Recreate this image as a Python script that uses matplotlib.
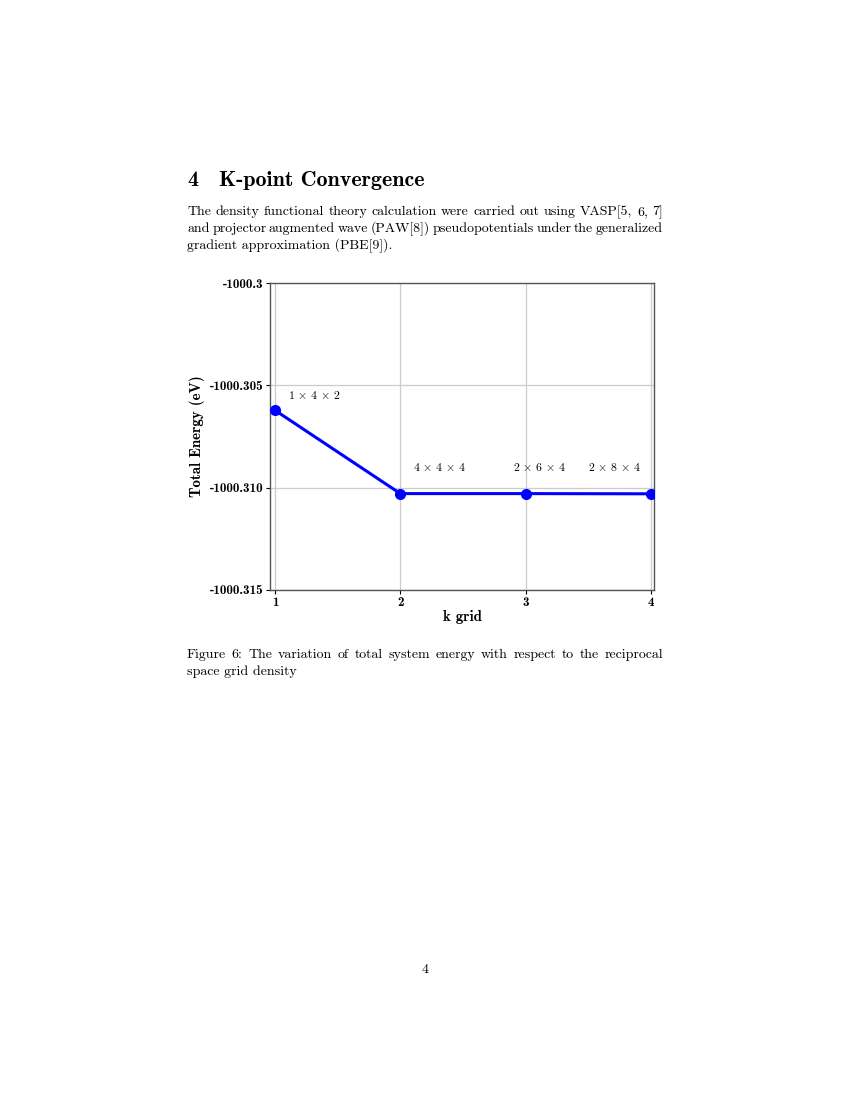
import matplotlib
matplotlib.use("Agg")
import matplotlib.pyplot as plt

plt.rcParams['mathtext.fontset'] = 'cm'
plt.rcParams['axes.unicode_minus'] = False

# Data
k_index = [1, 2, 3, 4]
energy = [-1000.30622, -1000.31029, -1000.31029, -1000.31030]
grid_labels = [r"$\mathbf{1}\,\times\,\mathbf{4}\,\times\,\mathbf{2}$",
               r"$\mathbf{4}\,\times\,\mathbf{4}\,\times\,\mathbf{4}$",
               r"$\mathbf{2}\,\times\,\mathbf{6}\,\times\,\mathbf{4}$",
               r"$\mathbf{2}\,\times\,\mathbf{8}\,\times\,\mathbf{4}$"]
y_ticks = [-1000.3, -1000.305, -1000.310, -1000.315]
y_tick_labels = ["-1000.3", "-1000.305", "-1000.310", "-1000.315"]
x_ticks = [1, 2, 3, 4]

# label positions (layout)
label_pos = [(1.10, -1000.3055), (2.10, -1000.3090), (2.90, -1000.3090), (3.50, -1000.3090)]

W, H = 850, 1100
fig = plt.figure(figsize=(8.5, 11), dpi=100)
renderer = fig.canvas.get_renderer()

R = 'cmr10'
B = 'cmb10'


def justified(line, y_px, x0=187, x1=663, justify=True, size=10):
    words = line.split(" ")
    if not justify or len(words) < 2:
        fig.text(x0 / W, 1 - y_px / H, line, family=R, fontsize=size, va='center', ha='left')
        return
    texts = [fig.text(0, 1 - y_px / H, w, family=R, fontsize=size, va='center', ha='left') for w in words]
    widths = [t.get_window_extent(renderer).width for t in texts]
    gap = (x1 - x0 - sum(widths)) / (len(words) - 1)
    x = x0
    for t, w in zip(texts, widths):
        t.set_x(x / W)
        x += w + gap


fig.text(187 / W, 1 - 181 / H, "4", family=B, fontsize=15.8, va='center', ha='left')
fig.text(219 / W, 1 - 181 / H, "K-point Convergence", family=B, fontsize=15.8, va='center', ha='left')

body = ["The density functional theory calculation were carried out using VASP[5, 6, 7]",
        "and projector augmented wave (PAW[8]) pseudopotentials under the generalized",
        "gradient approximation (PBE[9])."]
for i, line in enumerate(body):
    justified(line, 212 + 17 * i, justify=(i < len(body) - 1))

caption = ["Figure 6:  The variation of total system energy with respect to the reciprocal",
           "space grid density"]
for i, line in enumerate(caption):
    justified(line.replace("  ", " "), 655 + 17 * i, justify=(i < len(caption) - 1))

fig.text(425 / W, 1 - 970 / H, "4", family=R, fontsize=10, va='center', ha='center')

ax = fig.add_axes([270 / W, 1 - 590 / H, 384 / W, 307 / H])
ax.plot(k_index, energy, color='#0000ff', linewidth=2.2, marker='o', markersize=7, zorder=3)
for (x, y), lab in zip(label_pos, grid_labels):
    ax.text(x, y, lab, fontsize=8.5, ha='left', va='center')

ax.set_xlim(0.96, 4.024)
ax.set_ylim(-1000.315, -1000.3)
ax.set_xticks(x_ticks)
ax.set_xticklabels([str(v) for v in x_ticks], family=B, fontsize=9.5)
ax.set_yticks(y_ticks)
ax.set_yticklabels(y_tick_labels, family=B, fontsize=9.5)
ax.grid(True, color='#cccccc', linewidth=0.9)
ax.set_axisbelow(True)
ax.tick_params(length=3, width=0.8, pad=2)
for s in ax.spines.values():
    s.set_color('#555555')
    s.set_linewidth(1.0)
ax.set_xlabel("k grid", family=B, fontsize=10.7, labelpad=1)
ax.set_ylabel("Total Energy (eV)", family=B, fontsize=10.8, labelpad=3)

fig.savefig("out.png", dpi=100)
